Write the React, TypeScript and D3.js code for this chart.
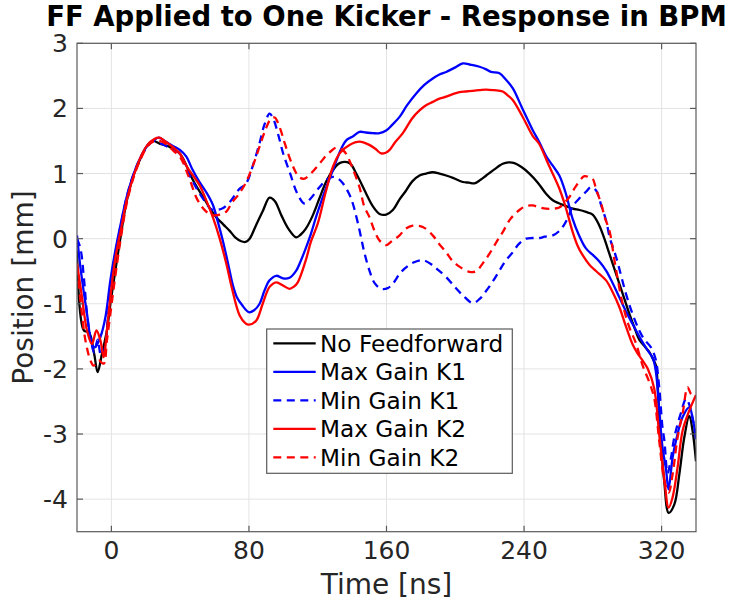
import React from "react";
import * as d3 from "d3";

const titleText = "FF Applied to One Kicker - Response in BPM";
const xLabel = "Time [ns]";
const yLabel = "Position [mm]";
const xTicks = [0, 80, 160, 240, 320];
const yTicks = [-4, -3, -2, -1, 0, 1, 2, 3];
const seriesNames = ["No Feedforward", "Max Gain K1", "Min Gain K1", "Max Gain K2", "Min Gain K2"];

const tBlack = [-20, -16, -13, -10, -8, -5.5, -2.6, -0.6, 2.3, 5, 8.7, 12.6, 16.4, 20.3, 24.2, 28, 33.9, 39.7, 44, 47.4, 53.3, 57, 61, 65, 68.8, 72, 75.5, 78, 80.4, 84, 88, 92, 95, 99, 103, 107.5, 110, 113, 117, 121, 125, 128.8, 132.7, 138.5, 142.4, 148.2, 152, 156, 159.8, 163.7, 167.5, 171.4, 175, 179.2, 183, 186.9, 190.8, 194.7, 199, 204.4, 208, 211.2, 214.5, 218, 222.5, 227.6, 231, 234.4, 238.5, 243.1, 248, 252.8, 256.7, 260.6, 264.5, 268.3, 272.2, 276, 279.9, 283.8, 286.7, 289.6, 292.5, 295.4, 298.3, 301.2, 304, 307, 310, 312.8, 315, 316.7, 317.6, 319, 321.5, 324.1, 327.4, 330.3, 333.2, 336.1, 338, 340];
const vBlack = [-0.18, -1.41, -1.44, -1.77, -2.05, -1.77, -1.41, -1.0, -0.49, -0.03, 0.55, 0.95, 1.2, 1.41, 1.5, 1.46, 1.41, 1.31, 1.1, 0.9, 0.64, 0.48, 0.33, 0.22, 0.12, 0.02, -0.04, -0.05, 0.0, 0.2, 0.42, 0.63, 0.58, 0.35, 0.15, 0.02, 0.06, 0.15, 0.35, 0.62, 0.88, 1.05, 1.16, 1.16, 1.0, 0.69, 0.5, 0.38, 0.37, 0.44, 0.6, 0.74, 0.88, 0.97, 1.0, 1.02, 1.0, 0.97, 0.93, 0.87, 0.86, 0.85, 0.9, 0.97, 1.06, 1.15, 1.17, 1.16, 1.1, 1.0, 0.86, 0.69, 0.59, 0.54, 0.5, 0.46, 0.44, 0.41, 0.37, 0.2, 0.0, -0.23, -0.46, -0.69, -0.92, -1.15, -1.35, -1.55, -1.65, -1.74, -1.85, -1.95, -2.2, -2.9, -3.72, -4.21, -4.08, -3.62, -3.05, -2.72, -2.95, -3.42];

const tBlueMax = [-20, -18, -14.2, -11.3, -9.6, -6.4, -3.5, -0.6, 2.3, 6, 9, 13, 17, 21, 25, 27.6, 31, 36, 40, 43.6, 47, 51, 55, 59, 62, 65, 68, 70.7, 73, 76, 80, 83, 86.2, 89, 92, 95.9, 99.8, 103.6, 107.5, 110, 113.3, 116, 119, 124, 128.8, 134, 137, 140.4, 144.3, 148, 152, 156, 159.8, 163, 167.6, 172, 177.3, 182, 186.9, 190.8, 194.7, 200, 204.4, 209, 214.1, 218, 220.8, 225.7, 229.5, 233.4, 239, 245, 248.9, 252.8, 256.7, 260.5, 264, 268.3, 272, 276, 280, 283.8, 287.7, 291.5, 295.4, 299.3, 303.1, 308.9, 312, 315, 316.7, 318.5, 320.5, 322.6, 324, 326.4, 328.4, 332.2, 336.1, 338, 340];
const vBlueMax = [0.05, -0.44, -1.15, -1.62, -1.67, -1.51, -1.21, -0.64, -0.18, 0.3, 0.65, 1.0, 1.25, 1.43, 1.52, 1.55, 1.5, 1.42, 1.36, 1.26, 1.07, 0.88, 0.72, 0.52, 0.25, -0.05, -0.4, -0.72, -0.9, -1.02, -1.13, -1.1, -1.0, -0.8, -0.64, -0.57, -0.61, -0.6, -0.49, -0.35, -0.13, 0.07, 0.33, 0.72, 1.05, 1.4, 1.52, 1.57, 1.64, 1.63, 1.62, 1.62, 1.66, 1.74, 1.87, 2.05, 2.23, 2.36, 2.46, 2.52, 2.56, 2.63, 2.69, 2.67, 2.64, 2.6, 2.56, 2.54, 2.44, 2.31, 2.0, 1.67, 1.48, 1.27, 1.12, 0.97, 0.72, 0.3, 0.05, -0.15, -0.25, -0.35, -0.49, -0.68, -0.9, -1.12, -1.31, -1.59, -1.72, -1.84, -2.05, -2.6, -3.2, -3.55, -3.85, -3.36, -3.1, -2.74, -2.59, -2.75, -3.08];

const tBlueMin = [-20, -18, -16, -14, -12, -10, -8, -6, -4, -2, 0, 2.5, 6, 9, 13, 17, 21, 25, 28, 32, 36, 40, 45, 50, 55, 58, 61, 65, 70, 74, 78.4, 82, 86, 89, 92, 94, 97, 100, 104, 108, 112.3, 116, 121, 125, 128.8, 132, 134.6, 138, 140.4, 144.3, 147, 150.1, 153, 156.9, 160.7, 164, 167.6, 171, 175.3, 181.1, 186.9, 190, 194.7, 200, 204.4, 210.2, 214, 218, 222, 225.7, 229, 233.4, 237, 241.2, 245, 249, 252, 256.7, 260.6, 263, 266, 268.3, 272.2, 276, 278.9, 281.9, 285, 287.7, 290, 293.5, 299.3, 303, 307, 310, 313.8, 316.5, 318.6, 320.5, 321.6, 323.5, 325.5, 327.4, 331.3, 334.2, 336.1, 340];
const vBlueMin = [0.0, -0.15, -0.6, -1.2, -1.55, -1.75, -1.55, -1.8, -1.7, -1.2, -0.65, -0.2, 0.28, 0.65, 1.0, 1.25, 1.42, 1.5, 1.47, 1.42, 1.38, 1.3, 1.0, 0.75, 0.55, 0.45, 0.44, 0.47, 0.6, 0.75, 0.85, 1.1, 1.45, 1.75, 1.92, 1.85, 1.6, 1.3, 1.0, 0.7, 0.54, 0.62, 0.79, 0.9, 0.95, 0.92, 0.85, 0.7, 0.54, 0.13, -0.2, -0.49, -0.68, -0.77, -0.76, -0.68, -0.54, -0.45, -0.37, -0.33, -0.41, -0.48, -0.59, -0.75, -0.87, -0.99, -0.93, -0.8, -0.65, -0.49, -0.35, -0.21, -0.08, 0.0, 0.01, 0.01, 0.03, 0.05, 0.12, 0.2, 0.35, 0.5, 0.62, 0.72, 0.79, 0.74, 0.5, 0.28, 0.0, -0.28, -0.85, -1.15, -1.41, -1.55, -1.67, -1.85, -2.28, -2.9, -3.1, -3.6, -3.36, -3.05, -2.67, -2.46, -2.55, -3.05];

const tRedMax = [-20, -17.1, -14.2, -11.3, -8.7, -6.4, -4.5, -2.6, -0.6, 2.3, 6, 9, 13, 17, 21, 25, 28, 31, 36, 40, 44, 48, 51.3, 55, 59, 63, 67, 70, 74.6, 78, 80, 84.2, 88, 92, 95.9, 99.8, 103.6, 106, 108.4, 113.3, 116, 120, 124.5, 128.8, 133, 138.5, 144.3, 150, 153.5, 156.9, 159.5, 161.7, 165, 169.5, 175, 179.2, 183, 186.9, 190.8, 194.7, 198.6, 202.4, 206, 210.2, 214, 218, 222.5, 227.6, 230.5, 233.4, 239, 245, 248.9, 254, 260.5, 264, 268.3, 271, 274, 278, 282, 287.7, 291.5, 295.4, 299.3, 303.1, 306, 308.9, 312, 315.7, 318.6, 321.6, 324.1, 326.4, 329.3, 332.2, 336.1, 340];
const vRedMax = [-0.38, -0.9, -1.41, -1.62, -1.41, -1.56, -1.82, -1.41, -0.9, -0.3, 0.2, 0.6, 0.97, 1.25, 1.44, 1.53, 1.55, 1.5, 1.4, 1.3, 1.1, 0.95, 0.82, 0.6, 0.33, 0.0, -0.4, -0.75, -1.18, -1.3, -1.32, -1.26, -1.0, -0.74, -0.67, -0.72, -0.77, -0.74, -0.67, -0.31, -0.05, 0.23, 0.7, 1.1, 1.32, 1.44, 1.49, 1.44, 1.38, 1.31, 1.32, 1.36, 1.48, 1.62, 1.85, 1.97, 2.05, 2.1, 2.15, 2.18, 2.22, 2.25, 2.26, 2.27, 2.28, 2.29, 2.28, 2.26, 2.2, 2.13, 1.88, 1.58, 1.45, 1.15, 0.77, 0.5, 0.1, -0.1, -0.25, -0.4, -0.5, -0.64, -0.82, -1.05, -1.35, -1.62, -1.76, -1.87, -2.0, -2.3, -3.0, -3.7, -4.13, -3.97, -3.51, -2.95, -2.64, -2.4];

const tRedMin = [-20, -18, -15.1, -12.2, -10.3, -7.4, -4.5, -2.6, 0.4, 3.3, 6, 9, 13, 17, 21, 25, 28, 32, 36, 40, 45, 50, 55, 59, 63, 67, 70, 74, 78, 82, 86, 90, 93, 95, 98, 101, 105, 109, 112, 116, 121, 125, 128, 131, 135, 137, 140, 144.3, 147, 150.1, 153, 156, 159.8, 163, 167.6, 171, 175.3, 181.1, 186.9, 190, 194.7, 198, 202.4, 208.3, 212.1, 216, 219.9, 224, 227.6, 232, 237.3, 241, 245, 249, 252.8, 256.7, 260.5, 263, 266.4, 270, 275.1, 278, 279.9, 282, 284.8, 287, 289.6, 293, 297.3, 301.2, 305, 309, 312.8, 315.7, 318.6, 321.6, 324.1, 326.4, 329.3, 332.2, 335.1, 337, 340];
const vRedMin = [-0.44, -0.95, -1.56, -1.87, -1.95, -1.87, -1.92, -1.56, -0.95, -0.38, 0.1, 0.55, 0.95, 1.22, 1.42, 1.5, 1.5, 1.45, 1.35, 1.25, 0.95, 0.6, 0.42, 0.36, 0.37, 0.42, 0.55, 0.68, 0.85, 1.1, 1.4, 1.7, 1.85, 1.86, 1.7, 1.45, 1.15, 0.95, 0.92, 1.0, 1.15, 1.28, 1.35, 1.4, 1.35, 1.28, 1.1, 0.79, 0.5, 0.33, 0.12, -0.03, -0.1, -0.04, 0.05, 0.15, 0.2, 0.18, 0.05, -0.06, -0.21, -0.33, -0.43, -0.51, -0.5, -0.38, -0.23, -0.05, 0.1, 0.3, 0.44, 0.5, 0.51, 0.48, 0.46, 0.46, 0.48, 0.54, 0.64, 0.8, 0.96, 0.94, 0.92, 0.75, 0.54, 0.32, 0.13, -0.4, -1.0, -1.36, -1.6, -1.95, -2.2, -2.45, -3.1, -3.72, -3.9, -3.62, -3.05, -2.69, -2.28, -2.38, -2.44];

const seriesTimes = [tBlack, tBlueMax, tBlueMin, tRedMax, tRedMin];
const seriesValues = [vBlack, vBlueMax, vBlueMin, vRedMax, vRedMin];
const seriesColors = ["#000000", "#0000ff", "#0000ff", "#ff0000", "#ff0000"];
const seriesDashed = [false, false, true, false, true];

const W = 743;
const H = 603;
const M = { left: 77, right: 696, top: 43.3, bottom: 531.7 };
const FONT = "'DejaVu Sans', sans-serif";

export default function App() {
  React.useEffect(() => {
    document.body.style.margin = "0";
  }, []);
  const x = d3.scaleLinear().domain([-20, 340]).range([M.left, M.right]);
  const y = d3.scaleLinear().domain([-4.5, 3]).range([M.bottom, M.top]);
  const line = d3
    .line<[number, number]>()
    .x((d) => x(d[0]))
    .y((d) => y(d[1]))
    .curve(d3.curveCatmullRom.alpha(0.5));

  const tickLen = 6;
  const axisColor = "#5a5a5a";
  const textColor = "#262626";
  const legend = { x0: 266.7, y0: 329, x1: 512.3, y1: 473.3, rowStart: 343.3, rowStep: 28.5 };

  return (
    <svg width={W} height={H} style={{ position: "absolute", left: 0, top: 0, background: "#fff" }} fontFamily={FONT}>
      <rect x={0} y={0} width={W} height={H} fill="#fff" />
      <rect x={M.left} y={M.top} width={M.right - M.left} height={M.bottom - M.top} fill="#fff" />
      {xTicks.map((t) => (
        <line key={"gx" + t} x1={x(t)} x2={x(t)} y1={M.top} y2={M.bottom} stroke="#e3e3e3" strokeWidth={1} />
      ))}
      {yTicks.map((t) => (
        <line key={"gy" + t} x1={M.left} x2={M.right} y1={y(t)} y2={y(t)} stroke="#e3e3e3" strokeWidth={1} />
      ))}
      <defs>
        <clipPath id="plotclip">
          <rect x={M.left} y={M.top} width={M.right - M.left} height={M.bottom - M.top} />
        </clipPath>
      </defs>
      <g clipPath="url(#plotclip)">
        {seriesTimes.map((ts, i) => {
          const pts: [number, number][] = ts.map((t, j) => [t, seriesValues[i][j]]);
          return (
            <path
              key={"s" + i}
              d={line(pts) || ""}
              fill="none"
              stroke={seriesColors[i]}
              strokeWidth={2.3}
              strokeDasharray={seriesDashed[i] ? "8,5.5" : undefined}
              strokeLinejoin="round"
            />
          );
        })}
      </g>
      <rect x={M.left} y={M.top} width={M.right - M.left} height={M.bottom - M.top} fill="none" stroke={axisColor} strokeWidth={1.2} />
      {xTicks.map((t) => (
        <g key={"tx" + t}>
          <line x1={x(t)} x2={x(t)} y1={M.bottom} y2={M.bottom - tickLen} stroke={axisColor} strokeWidth={1.2} />
          <line x1={x(t)} x2={x(t)} y1={M.top} y2={M.top + tickLen} stroke={axisColor} strokeWidth={1.2} />
          <text x={x(t)} y={559} textAnchor="middle" fontSize={25} fill={textColor}>
            {t}
          </text>
        </g>
      ))}
      {yTicks.map((t) => (
        <g key={"ty" + t}>
          <line x1={M.left} x2={M.left + tickLen} y1={y(t)} y2={y(t)} stroke={axisColor} strokeWidth={1.2} />
          <line x1={M.right} x2={M.right - tickLen} y1={y(t)} y2={y(t)} stroke={axisColor} strokeWidth={1.2} />
          <text x={68} y={y(t) + 9} textAnchor="end" fontSize={25} fill={textColor}>
            {t}
          </text>
        </g>
      ))}
      <text x={(M.left + M.right) / 2} y={594} textAnchor="middle" fontSize={28} fill={textColor}>
        {xLabel}
      </text>
      <text
        transform={`translate(33,${(M.top + M.bottom) / 2}) rotate(-90)`}
        textAnchor="middle"
        fontSize={28}
        fill={textColor}
      >
        {yLabel}
      </text>
      <text x={(M.left + M.right) / 2} y={26} textAnchor="middle" fontSize={27.5} fontWeight="bold" fill="#000">
        {titleText}
      </text>
      <rect x={legend.x0} y={legend.y0} width={legend.x1 - legend.x0} height={legend.y1 - legend.y0} fill="#fff" stroke={axisColor} strokeWidth={1.2} />
      {seriesNames.map((name, i) => {
        const cy = legend.rowStart + i * legend.rowStep;
        return (
          <g key={"lg" + i}>
            <line
              x1={273.3}
              x2={315.7}
              y1={cy}
              y2={cy}
              stroke={seriesColors[i]}
              strokeWidth={2.3}
              strokeDasharray={seriesDashed[i] ? "8,5.5" : undefined}
            />
            <text x={320} y={cy + 8.2} fontSize={23.2} fill="#000">
              {name}
            </text>
          </g>
        );
      })}
    </svg>
  );
}
